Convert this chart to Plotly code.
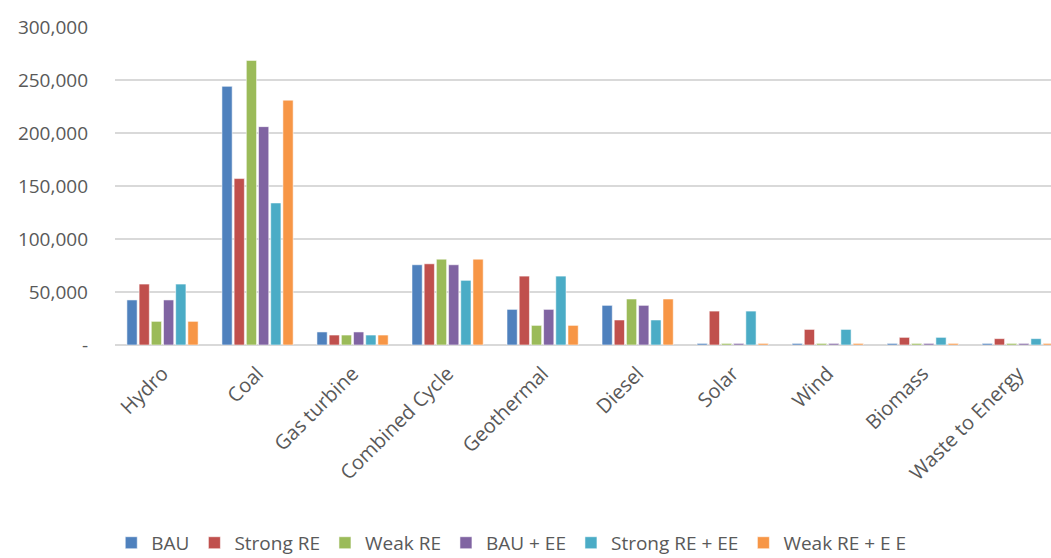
import plotly.graph_objects as go

categories = ["Hydro", "Coal", "Gas turbine", "Combined Cycle", "Geothermal",
              "Diesel", "Solar", "Wind", "Biomass", "Waste to Energy"]

bau          = [42500, 244000, 12300, 75700, 33600, 37400, 1500, 1500, 1500, 1500]
strong_re    = [57500, 157000,  9400, 76600, 65000, 23600, 32000, 14700, 7200, 6000]
weak_re      = [22300, 268500,  9400, 81000, 18500, 43400, 1500, 1500, 1500, 1500]
bau_ee       = [42500, 206000, 12300, 75700, 33600, 37400, 1500, 1500, 1500, 1500]
strong_re_ee = [57500, 134000,  9400, 61000, 65000, 23600, 32000, 14700, 7200, 6000]
weak_re_ee   = [22300, 231000,  9400, 81000, 18500, 43400, 1500, 1500, 1500, 1500]

series = [
    ("BAU", bau, "#4F81BD"),
    ("Strong RE", strong_re, "#C0504D"),
    ("Weak RE", weak_re, "#9BBB59"),
    ("BAU + EE", bau_ee, "#8064A2"),
    ("Strong RE + EE", strong_re_ee, "#4BACC6"),
    ("Weak RE + E E", weak_re_ee, "#F79646"),
]

y_ticks = [0, 50000, 100000, 150000, 200000, 250000, 300000]
y_tick_text = ["-", "50,000", "100,000", "150,000", "200,000", "250,000", "300,000"]

FONT = "Open Sans, Noto Sans, sans-serif"
GREY = "#595959"

fig = go.Figure()
for name, vals, color in series:
    fig.add_trace(go.Bar(
        name=name, x=categories, y=vals,
        marker=dict(color=color, line=dict(color="rgba(255,255,255,0.55)", width=1)),
    ))

fig.update_layout(
    width=1051, height=558,
    margin=dict(l=115, r=0, t=27, b=213, autoexpand=False),
    paper_bgcolor="white", plot_bgcolor="white",
    barmode="group", bargap=0.23, bargroupgap=0.16,
    font=dict(family=FONT, size=18, color=GREY),
    xaxis=dict(
        range=[-0.5, 9.35], tickangle=-45, showgrid=False, automargin=False,
        showline=False, ticks="", ticklabelstandoff=12,
        tickfont=dict(size=20, color=GREY),
    ),
    yaxis=dict(
        range=[0, 300000], tickvals=y_ticks, ticktext=y_tick_text,
        showgrid=True, gridcolor="#D9D9D9", gridwidth=2, automargin=False,
        zeroline=True, zerolinecolor="#D9D9D9", zerolinewidth=2,
        showline=False, ticks="", ticklabelstandoff=26,
        tickfont=dict(size=19, color=GREY),
    ),
    legend=dict(
        orientation="h", x=-0.004, xanchor="left", y=-0.682, yanchor="bottom",
        font=dict(size=19, color=GREY), itemwidth=30, traceorder="normal",
        tracegroupgap=0,
    ),
)

fig.write_html("out.html")
